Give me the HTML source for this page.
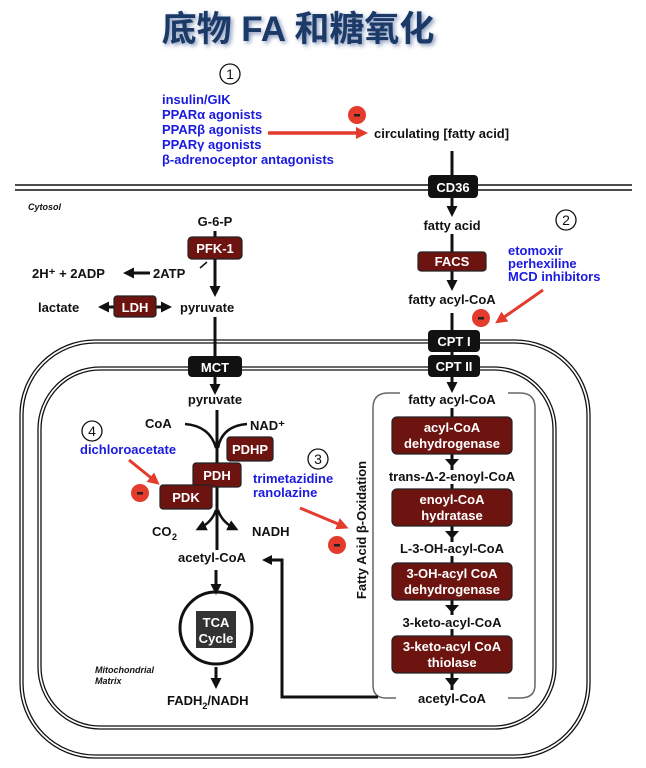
<!DOCTYPE html>
<html><head><meta charset="utf-8"><style>
body{margin:0;background:#fff}
svg{display:block}
text{font-family:"Liberation Sans",Arial,sans-serif;font-weight:bold;font-size:13px;fill:#111}
.b{fill:#1a1ae0}
.w{fill:#fff}
.e{fill:#6e1410;stroke:#222;stroke-width:1.2}
.k{fill:#111}
.ln{stroke:#111;stroke-width:3;fill:none}
</style></head><body>
<svg width="646" height="768" viewBox="0 0 646 768">
<defs>
<marker id="ah" markerWidth="11" markerHeight="11" refX="6" refY="5.5" orient="auto" markerUnits="userSpaceOnUse"><path d="M0,0 L11,5.5 L0,11z" fill="#111"/></marker>
<marker id="ahs" markerWidth="11" markerHeight="11" refX="5" refY="5.5" orient="auto-start-reverse" markerUnits="userSpaceOnUse"><path d="M0,0 L11,5.5 L0,11z" fill="#111"/></marker>
<marker id="rh" markerWidth="12" markerHeight="12" refX="6" refY="6" orient="auto" markerUnits="userSpaceOnUse"><path d="M0,0 L12,6 L0,12z" fill="#e33b2c"/></marker>
<filter id="sh"><feGaussianBlur stdDeviation="2"/></filter>
</defs>
<text x="300" y="43" text-anchor="middle" style="font-size:35px;font-family:'Liberation Sans','Noto Sans CJK SC',sans-serif;fill:#8899bb" filter="url(#sh)">底物 FA 和糖氧化</text>
<text x="298" y="41" text-anchor="middle" style="font-size:35px;font-family:'Liberation Sans','Noto Sans CJK SC',sans-serif;fill:#1b3a68">底物 FA 和糖氧化</text>
<circle cx="230" cy="74" r="10" fill="none" stroke="#111" stroke-width="1.3"/><text x="230" y="79" text-anchor="middle" style="font-weight:normal;font-size:14px">1</text>
<text class="b" x="162" y="104">insulin/GIK</text>
<text class="b" x="162" y="119">PPARα agonists</text>
<text class="b" x="162" y="134">PPARβ agonists</text>
<text class="b" x="162" y="149">PPARγ agonists</text>
<text class="b" x="162" y="164">β-adrenoceptor antagonists</text>
<line x1="268" y1="133" x2="362" y2="133" stroke="#e33b2c" stroke-width="3.5" marker-end="url(#rh)"/>
<circle cx="357" cy="115" r="9" fill="#e33b2c"/><rect x="354" y="114" width="6" height="2.5" fill="#222"/>
<text x="374" y="138">circulating [fatty acid]</text>
<line x1="15" y1="185" x2="632" y2="185" stroke="#111" stroke-width="1.5"/>
<line x1="15" y1="190" x2="632" y2="190" stroke="#111" stroke-width="1.5"/>
<text x="28" y="210" style="font-size:9px;font-style:italic">Cytosol</text>
<rect x="20" y="340" width="570" height="418" rx="75" fill="none" stroke="#111" stroke-width="1.3"/>
<rect x="23" y="343" width="564" height="412" rx="72" fill="none" stroke="#111" stroke-width="1.3"/>
<rect x="38" y="367" width="518" height="362" rx="62" fill="none" stroke="#111" stroke-width="1.3"/>
<rect x="41" y="370" width="512" height="356" rx="59" fill="none" stroke="#111" stroke-width="1.3"/>
<line class="ln" x1="452" y1="151" x2="452" y2="212" marker-end="url(#ah)"/>
<rect x="428" y="175" width="50" height="23" rx="4" class="k"/><text class="w" x="453" y="192" text-anchor="middle">CD36</text>
<text x="452" y="230" text-anchor="middle">fatty acid</text>
<line class="ln" x1="452" y1="234" x2="452" y2="286" marker-end="url(#ah)"/>
<rect x="418" y="252" width="68" height="19" rx="3" class="e"/><text class="w" x="452" y="266" text-anchor="middle">FACS</text>
<text x="452" y="304" text-anchor="middle">fatty acyl-CoA</text>
<line class="ln" x1="452" y1="313" x2="452" y2="388" marker-end="url(#ah)"/>
<rect x="428" y="330" width="52" height="22" rx="4" class="k"/><text class="w" x="454" y="346" text-anchor="middle">CPT I</text>
<rect x="428" y="355" width="52" height="22" rx="4" class="k"/><text class="w" x="454" y="371" text-anchor="middle">CPT II</text>
<circle cx="481" cy="318" r="9" fill="#e33b2c"/><rect x="478" y="317" width="6" height="2.5" fill="#222"/>
<line x1="543" y1="290" x2="500" y2="320" stroke="#e33b2c" stroke-width="3" marker-end="url(#rh)"/>
<circle cx="566" cy="220" r="10" fill="none" stroke="#111" stroke-width="1.3"/><text x="566" y="225" text-anchor="middle" style="font-weight:normal;font-size:14px">2</text>
<text class="b" x="508" y="255">etomoxir</text>
<text class="b" x="508" y="268">perhexiline</text>
<text class="b" x="508" y="281">MCD inhibitors</text>
<path d="M400,393 L388,393 Q373,393 373,408 L373,685 Q373,698 386,698 L396,698 M508,698 L520,698 Q535,698 535,685 L535,408 Q535,393 520,393 L508,393" fill="none" stroke="#666" stroke-width="1.5"/>
<text x="452" y="404" text-anchor="middle">fatty acyl-CoA</text>
<line class="ln" x1="452" y1="408" x2="452" y2="690"/>
<rect x="392" y="417" width="120" height="37" rx="5" class="e"/><text class="w" x="452" y="432" text-anchor="middle">acyl-CoA</text><text class="w" x="452" y="448" text-anchor="middle">dehydrogenase</text>
<path d="M445,459 L459,459 L452,467z" fill="#111"/>
<rect x="380" y="470" width="144" height="14" fill="#fff"/><text x="452" y="481" text-anchor="middle">trans-Δ-2-enoyl-CoA</text>
<rect x="392" y="489" width="120" height="37" rx="5" class="e"/><text class="w" x="452" y="504" text-anchor="middle">enoyl-CoA</text><text class="w" x="452" y="520" text-anchor="middle">hydratase</text>
<path d="M445,531 L459,531 L452,539z" fill="#111"/>
<rect x="385" y="542" width="134" height="14" fill="#fff"/><text x="452" y="553" text-anchor="middle">L-3-OH-acyl-CoA</text>
<rect x="392" y="563" width="120" height="37" rx="5" class="e"/><text class="w" x="452" y="578" text-anchor="middle">3-OH-acyl CoA</text><text class="w" x="452" y="594" text-anchor="middle">dehydrogenase</text>
<path d="M445,605 L459,605 L452,613z" fill="#111"/>
<rect x="392" y="615" width="120" height="14" fill="#fff"/><text x="452" y="627" text-anchor="middle">3-keto-acyl-CoA</text>
<rect x="392" y="636" width="120" height="37" rx="5" class="e"/><text class="w" x="452" y="651" text-anchor="middle">3-keto-acyl CoA</text><text class="w" x="452" y="667" text-anchor="middle">thiolase</text>
<path d="M445,678 L459,678 L452,687z" fill="#111"/>
<text x="452" y="703" text-anchor="middle">acetyl-CoA</text>
<text x="366" y="530" text-anchor="middle" transform="rotate(-90 366 530)" style="font-size:13px">Fatty Acid β-Oxidation</text>
<polyline points="378,697 282,697 282,560 270,560" fill="none" stroke="#111" stroke-width="3"/>
<path d="M262,560 L272,555 L272,565z" fill="#111"/>
<text x="215" y="226" text-anchor="middle">G-6-P</text>
<line class="ln" x1="215" y1="231" x2="215" y2="292" marker-end="url(#ah)"/>
<rect x="188" y="237" width="54" height="22" rx="4" class="e"/><text class="w" x="215" y="253" text-anchor="middle">PFK-1</text>
<path d="M207,262 L200,268" stroke="#111" stroke-width="1.5"/>
<text x="153" y="278">2ATP</text>
<text x="32" y="278">2H⁺ + 2ADP</text>
<line x1="150" y1="273" x2="128" y2="273" stroke="#111" stroke-width="3" marker-end="url(#ah)"/>
<text x="38" y="312">lactate</text>
<line x1="104" y1="307" x2="166" y2="307" stroke="#111" stroke-width="3" marker-end="url(#ahs)" marker-start="url(#ahs)"/>
<rect x="114" y="296" width="42" height="21" rx="3" class="e"/><text class="w" x="135" y="312" text-anchor="middle">LDH</text>
<text x="180" y="312">pyruvate</text>
<line class="ln" x1="215" y1="317" x2="215" y2="390" marker-end="url(#ah)"/>
<rect x="188" y="356" width="54" height="21" rx="4" class="k"/><text class="w" x="215" y="372" text-anchor="middle">MCT</text>
<text x="215" y="404" text-anchor="middle">pyruvate</text>
<line class="ln" x1="217" y1="410" x2="217" y2="556" marker-end="url(#ah)"/>
<path d="M185,424 Q210,426 216,448" fill="none" stroke="#111" stroke-width="2.5"/>
<path d="M247,424 Q222,426 218,448" fill="none" stroke="#111" stroke-width="2.5"/>
<text x="145" y="428">CoA</text>
<text x="250" y="430">NAD⁺</text>
<path d="M216,510 Q212,522 200,528" fill="none" stroke="#111" stroke-width="2.5" marker-end="url(#ah)"/>
<path d="M218,510 Q222,522 234,528" fill="none" stroke="#111" stroke-width="2.5" marker-end="url(#ah)"/>
<text x="152" y="536">CO</text><text x="172" y="540" style="font-size:9px">2</text>
<text x="252" y="536">NADH</text>
<rect x="227" y="437" width="46" height="24" rx="3" class="e"/><text class="w" x="250" y="454" text-anchor="middle">PDHP</text>
<rect x="193" y="463" width="48" height="24" rx="3" class="e"/><text class="w" x="217" y="480" text-anchor="middle">PDH</text>
<rect x="160" y="485" width="52" height="24" rx="3" class="e"/><text class="w" x="186" y="502" text-anchor="middle">PDK</text>
<circle cx="92" cy="431" r="10" fill="none" stroke="#111" stroke-width="1.3"/><text x="92" y="436" text-anchor="middle" style="font-weight:normal;font-size:14px">4</text>
<text class="b" x="80" y="454">dichloroacetate</text>
<line x1="129" y1="460" x2="155" y2="481" stroke="#e33b2c" stroke-width="3" marker-end="url(#rh)"/>
<circle cx="140" cy="493" r="9" fill="#e33b2c"/><rect x="137" y="492" width="6" height="2.5" fill="#222"/>
<circle cx="318" cy="459" r="10" fill="none" stroke="#111" stroke-width="1.3"/><text x="318" y="464" text-anchor="middle" style="font-weight:normal;font-size:14px">3</text>
<text class="b" x="253" y="483">trimetazidine</text>
<text class="b" x="253" y="497">ranolazine</text>
<line x1="300" y1="508" x2="343" y2="526" stroke="#e33b2c" stroke-width="3" marker-end="url(#rh)"/>
<circle cx="337" cy="545" r="9" fill="#e33b2c"/><rect x="334" y="544" width="6" height="2.5" fill="#222"/>
<rect x="176" y="550" width="84" height="14" fill="#fff"/>
<text x="178" y="562">acetyl-CoA</text>
<line class="ln" x1="216" y1="570" x2="216" y2="590" marker-end="url(#ah)"/>
<circle cx="216" cy="628" r="36" fill="none" stroke="#111" stroke-width="3"/>
<rect x="196" y="611" width="40" height="37" fill="#333"/><text class="w" x="216" y="627" text-anchor="middle">TCA</text><text class="w" x="216" y="643" text-anchor="middle">Cycle</text>
<text x="95" y="673" style="font-size:9px;font-style:italic">Mitochondrial</text>
<text x="95" y="684" style="font-size:9px;font-style:italic">Matrix</text>
<line class="ln" x1="216" y1="667" x2="216" y2="684" marker-end="url(#ah)"/>
<text x="167" y="705">FADH<tspan dy="4" style="font-size:9px">2</tspan><tspan dy="-4">/NADH</tspan></text>
</svg>
</body></html>
